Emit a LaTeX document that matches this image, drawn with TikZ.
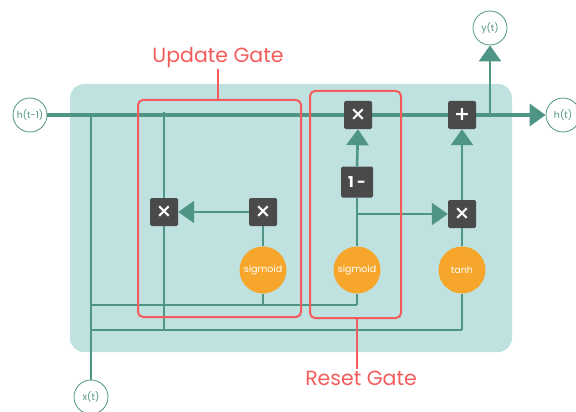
\documentclass[tikz,border=0pt]{standalone}
\usepackage{fontspec}
\setmainfont{Poppins}
\newfontfamily\symfont{DejaVu Sans}
\usetikzlibrary{arrows.meta}
\definecolor{lnc}{HTML}{4F9585}
\definecolor{bgc}{HTML}{BFE2E1}
\definecolor{dkc}{HTML}{4A4A4A}
\definecolor{orc}{HTML}{F6A72B}
\definecolor{rdc}{HTML}{F45B5B}
\tikzset{
  wire/.style={draw=lnc, line width=2.6pt},
  mainwire/.style={draw=lnc, line width=3.6pt},
  tip/.style={-{Triangle[length=16pt,width=22pt]}},
  op/.style={fill=dkc, rounded corners=1.5pt, minimum width=28pt, minimum height=28pt, inner sep=0pt, text=white, font=\symfont\bfseries\fontsize{19}{19}\selectfont},
  act/.style={circle, fill=orc, minimum size=47pt, inner sep=0pt, text=white, font=\fontsize{9.5}{10}\selectfont},
  io/.style={circle, draw=lnc, fill=white, line width=0.8pt, minimum size=34pt, inner sep=0pt, text=lnc, font=\fontsize{9.5}{10}\selectfont},
  redbox/.style={draw=rdc, line width=2pt, rounded corners=5pt},
  redlabel/.style={text=rdc, font=\fontsize{20.5}{22}\selectfont, inner sep=1pt},
  redline/.style={draw=rdc, line width=1.6pt}
}
\begin{document}
\begin{tikzpicture}[x=1pt,y=-1pt]
\useasboundingbox (0,0) rectangle (576,412);
% background
\fill[bgc, rounded corners=14pt] (70,84) rectangle (512,352);
% nodes
\node[io] (hprev) at (30,115) {h(t-1)};
\node[io] (hnext) at (563,115) {h(t)};
\node[io] (y) at (490,28) {y(t)};
\node[io] (x) at (91,397) {x(t)};
% coordinates
\coordinate (yb) at (490,115);
\coordinate (xt) at (91,115);
\coordinate (c1) at (164,112);
\coordinate (c2) at (164,330);
\coordinate (b1) at (91,330);
\coordinate (b2) at (462,330);
\coordinate (a1) at (91,305);
\coordinate (a2) at (357,305);
\coordinate (br) at (357,214);
% wires
\draw[mainwire, -{Triangle[length=16pt,width=22pt]}] (hprev.east) -- (hnext.west);
\draw[wire, tip] (yb) -- (y.south);
\draw[wire] (x.north) -- (xt);
\draw[wire] (c1) -- (c2);
\draw[wire] (b1) -- (b2);
\draw[wire] (a1) -- (a2);
\node[act] (s1) at (263,270) {sigmoid};
\node[act] (s2) at (357,270) {sigmoid};
\node[act] (th) at (462,270) {tanh};
\node[op] (m1) at (358,115) {×};
\node[op] (add) at (462,115) {+};
\node[op] (m2) at (164,212) {×};
\node[op] (m3) at (263,212) {×};
\node[op, minimum width=32pt, minimum height=31pt, font=\bfseries\fontsize{15}{15}\selectfont] (om) at (357,182) {1 -};
\node[op] (m4) at (462,214) {×};
\draw[wire] (a2) -- (s2.south);
\draw[wire] (b2) -- (th.south);
\draw[wire] (s1.south) -- (s1.south |- a1);
\draw[wire, tip] (m3.west) -- (m2.east);
\draw[wire] (s1.north) -- (m3.south);
\draw[wire] (s2.north) -- (om.south);
\draw[wire, tip] (om.north) -- (m1.south);
\draw[wire, tip] (br) -- (m4.west);
\draw[wire] (th.north) -- (m4.south);
\draw[wire, tip] (m4.north) -- (add.south);
% gate boxes
\draw[redbox] (138,100) rectangle (301,317);
\draw[redbox] (310,91) rectangle (401,318);
\node[redlabel] (ug) at (218,58) {Update Gate};
\node[redlabel] (rg) at (361,378) {Reset Gate};
\coordinate (ugt) at (218,100);
\coordinate (rgt) at (357,318);
\draw[redline] (ug.south -| ugt) -- (ugt);
\draw[redline] (rgt) -- (rg.north -| rgt);
\end{tikzpicture}
\end{document}
